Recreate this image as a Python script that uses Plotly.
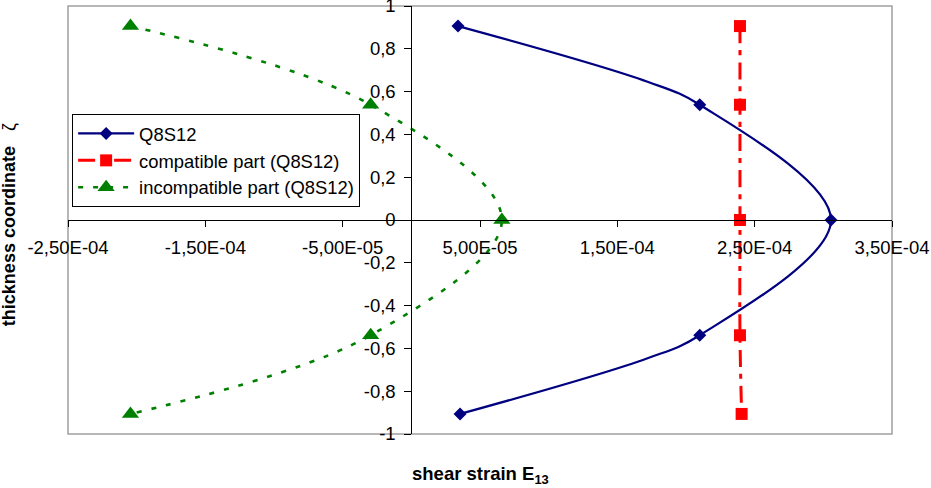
import plotly.graph_objects as go

# ---- data ----
# Q8S12 (total shear strain); points flagged True carry a marker
q8_x = [3.40e-5, 1.72e-4, 2.10e-4, 3.056e-4, 2.10e-4, 1.72e-4, 3.55e-5]
q8_y = [0.9062, 0.646, 0.5385, 0.0, -0.5385, -0.646, -0.9062]
q8_marked = [True, False, True, True, True, False, True]

# compatible part (Q8S12)
comp_x = [2.393e-4, 2.393e-4, 2.393e-4, 2.393e-4, 2.405e-4]
comp_y = [0.9062, 0.5385, 0.0, -0.5385, -0.9062]

# incompatible part (Q8S12)
inc_x = [-2.045e-4, -2.96e-5, 6.59e-5, -2.96e-5, -2.045e-4]
inc_y = [0.9062, 0.5385, 0.0, -0.5385, -0.9062]

x_range = [-2.5e-4, 3.5e-4]
y_range = [-1.0, 1.0]
x_tickvals = [-2.5e-4, -1.5e-4, -5e-5, 5e-5, 1.5e-4, 2.5e-4, 3.5e-4]
x_ticktext = ["-2,50E-04", "-1,50E-04", "-5,00E-05", "5,00E-05",
              "1,50E-04", "2,50E-04", "3,50E-04"]
y_tickvals = [1, 0.8, 0.6, 0.4, 0.2, 0, -0.2, -0.4, -0.6, -0.8, -1]
y_ticktext = ["1", "0,8", "0,6", "0,4", "0,2", "0",
              "-0,2", "-0,4", "-0,6", "-0,8", "-1"]

names = ["Q8S12", "compatible part (Q8S12)", "incompatible part (Q8S12)"]

NAVY = "#000080"
RED = "#FF0000"
GREEN = "#008000"
FONT = "Liberation Sans, Arial, sans-serif"

fig = go.Figure()

fig.add_trace(go.Scatter(
    x=q8_x, y=q8_y, name=names[0], mode="lines+markers",
    line=dict(color=NAVY, width=2.2, shape="spline", smoothing=1.0),
    marker=dict(symbol="diamond", size=10,
                color=[NAVY if m else "rgba(0,0,0,0)" for m in q8_marked],
                line=dict(width=0)),
))

fig.add_trace(go.Scatter(
    x=comp_x, y=comp_y, name=names[1], mode="lines+markers",
    line=dict(color=RED, width=3, dash="17px,7px,5px,7px",
              shape="spline", smoothing=1.0),
    marker=dict(symbol="square", size=12, color=RED, line=dict(width=0)),
))

fig.add_trace(go.Scatter(
    x=inc_x, y=inc_y, name=names[2], mode="lines+markers",
    line=dict(color=GREEN, width=2.6, dash="5px,10px",
              shape="spline", smoothing=1.0),
    marker=dict(symbol="triangle-up", size=15, color=GREEN, line=dict(width=0)),
))

# axes cross at the origin
x0_frac = (0 - x_range[0]) / (x_range[1] - x_range[0])
y0_frac = (0 - y_range[0]) / (y_range[1] - y_range[0])

tickfont = dict(family=FONT, size=18.5, color="black")

fig.update_layout(
    width=931, height=488,
    margin=dict(l=68, r=39, t=6, b=54, pad=0, autoexpand=False),
    paper_bgcolor="white", plot_bgcolor="white",
    font=dict(family=FONT, size=18, color="black"),
    xaxis=dict(range=x_range, tickvals=x_tickvals, ticktext=x_ticktext,
               ticks="outside", ticklen=6, tickcolor="black", tickwidth=1,
               showline=True, linecolor="black", linewidth=1,
               anchor="free", position=y0_frac, ticklabeloverflow="allow",
               ticklabelstandoff=5,
               showgrid=False, zeroline=False, tickfont=tickfont),
    yaxis=dict(range=y_range, tickvals=y_tickvals, ticktext=y_ticktext,
               ticks="outside", ticklen=7, tickcolor="black", tickwidth=1,
               showline=True, linecolor="black", linewidth=1,
               anchor="free", position=x0_frac, ticklabeloverflow="allow",
               ticklabelstandoff=5,
               showgrid=False, zeroline=False, tickfont=tickfont),
    legend=dict(x=0.005, y=0.7477, xanchor="left", yanchor="top",
                bgcolor="white", bordercolor="black", borderwidth=1,
                font=dict(family=FONT, size=18.4, color="black"),
                itemwidth=56),
    showlegend=True,
)

# plot-area frame
fig.add_shape(type="rect", xref="paper", yref="paper", x0=0, x1=1, y0=0, y1=1,
              line=dict(color="#a0a0a0", width=1.5), layer="below")

# axis titles
fig.add_annotation(text="<b>shear strain E<sub>13</sub></b>",
                   xref="paper", yref="paper", x=0.5, y=-0.096,
                   xanchor="center", yanchor="middle", showarrow=False,
                   font=dict(family=FONT, size=18.5, color="black"))
fig.add_annotation(text="<b>thickness coordinate</b>\u00a0\u00a0\u00a0ζ",
                   xref="paper", yref="paper", x=-0.0716, y=0.488,
                   xanchor="center", yanchor="middle", textangle=-90,
                   showarrow=False,
                   font=dict(family=FONT, size=18, color="black"))

fig.write_html("out.html",
               config={"displayModeBar": False},
               post_script="document.body.style.margin='0';"
                           "document.body.style.padding='0';")
